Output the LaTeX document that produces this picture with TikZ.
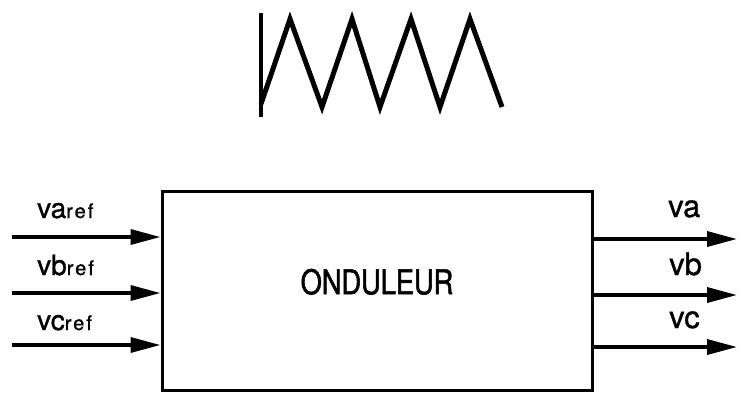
\documentclass[tikz,border=0pt]{standalone}
\usepackage{fontspec}
\setmainfont[FakeBold=1]{TeX Gyre Heros}
\newfontfamily\refface[LetterSpace=10,FakeBold=1]{TeX Gyre Heros}
\newfontfamily\blkface[FakeStretch=0.8,FakeBold=1.5]{TeX Gyre Heros}
\usepackage{tikz}
\usetikzlibrary{positioning,arrows.meta,calc}

\newcommand\sigin{\fontsize{28}{30}\selectfont}
\newcommand\sigref{\refface\fontsize{20}{22}\selectfont}
\newcommand\sigout{\fontsize{31}{33}\selectfont}

\begin{document}
\begin{tikzpicture}[x=1pt,y=-1pt,>=Triangle]
\tikzset{
  blk/.style={draw=black,line width=3pt,minimum width=430pt,minimum height=199pt,inner sep=0pt,font=\blkface\fontsize{34}{36}\selectfont},
  sig/.style={-{Triangle[length=30pt,width=15pt]},line width=3.5pt,draw=black},
  lbl/.style={inner sep=0pt,anchor=base west},
  saw/.style={line width=5pt,draw=black}
}
\useasboundingbox (0,0) rectangle (739,392);

% carrier signal
\draw[line width=4pt] (261,13) -- (261,117);
\draw[saw] (261,104) -- (290,19) -- (322,107) -- (352,19) -- (380,107)
  -- (411,19) -- (440,107) -- (470,19) -- (502,107);

% inverter block
\node[blk] (ond) at (377,290.5) {\raisebox{18pt}{ONDULEUR}};

% reference inputs
\coordinate (ina) at (12,237);
\coordinate (inb) at (12,293);
\coordinate (inc) at (12,345);
\draw[sig] (ina) -- (ina -| ond.west);
\draw[sig] (inb) -- (inb -| ond.west);
\draw[sig] (inc) -- (inc -| ond.west);
\node[lbl] (la) at (37,218) {{\sigin va}{\sigref ref}};
\node[lbl] (lb) at (37,275) {{\sigin vb}{\sigref ref}};
\node[lbl] (lc) at (37,330) {{\sigin vc}{\sigref ref}};

% outputs
\coordinate (outa) at (737,239);
\coordinate (outb) at (737,295);
\coordinate (outc) at (737,347);
\draw[sig] (outa -| ond.east) -- (outa);
\draw[sig] (outb -| ond.east) -- (outb);
\draw[sig] (outc -| ond.east) -- (outc);
\node[lbl] (ra) at (668,217) {\sigout va};
\node[lbl] (rb) at (669,275) {\sigout vb};
\node[lbl] (rc) at (669,328) {\sigout vc};
\end{tikzpicture}
\end{document}
